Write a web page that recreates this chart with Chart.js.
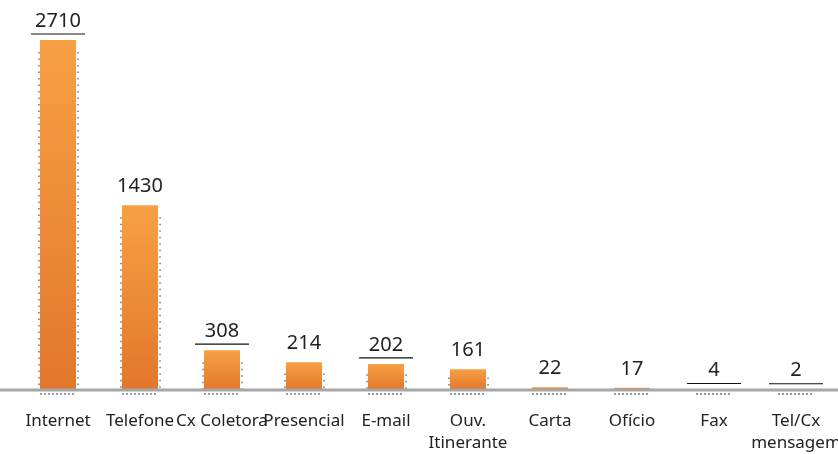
<!DOCTYPE html>
<html>
<head>
<meta charset="utf-8">
<script src="https://cdn.jsdelivr.net/npm/chart.js@4"></script>
<style>
  html, body { margin: 0; padding: 0; background: #fff; }
  #wrap { width: 838px; height: 454px; }
</style>
</head>
<body>
<div id="wrap"><canvas id="chart" width="838" height="454"></canvas></div>
<script>
const categories = ['Internet', 'Telefone', 'Cx Coletora', 'Presencial', 'E-mail',
    ['Ouv.', 'Itinerante'], 'Carta', 'Ofício', 'Fax', ['Tel/Cx', 'mensagem']];
const values = [2710, 1430, 308, 214, 202, 161, 22, 17, 4, 2];
const underlined = [true, false, true, false, true, false, false, false, true, true];

const FONT = '"Noto Sans", "Open Sans", sans-serif';

/* ===============================
   PLUGINS
================================ */
const baseline = {
    id: 'baseline',
    afterDatasetsDraw(chart) {
        const { ctx, chartArea } = chart;
        const meta = chart.getDatasetMeta(0);
        ctx.save();

        // dotted edges beside each bar
        ctx.strokeStyle = '#777';
        ctx.lineWidth = 1.5;
        ctx.setLineDash([1.5, 5]);
        meta.data.forEach(bar => {
            const h = bar.base - bar.y;
            if (h < 8) return;
            const l = bar.x - bar.width / 2 - 1;
            const r = bar.x + bar.width / 2 + 2;
            ctx.beginPath();
            ctx.moveTo(l, bar.y + Math.min(12, h * 0.4));
            ctx.lineTo(l, bar.base);
            ctx.moveTo(r, bar.y + Math.min(12, h * 0.4));
            ctx.lineTo(r, bar.base);
            ctx.stroke();
        });
        ctx.setLineDash([2, 2]);
        meta.data.forEach(bar => {
            ctx.beginPath();
            ctx.moveTo(bar.x - bar.width / 2, chartArea.bottom + 4);
            ctx.lineTo(bar.x + bar.width / 2, chartArea.bottom + 4);
            ctx.stroke();
        });
        ctx.setLineDash([]);

        // gray base line across the whole width
        ctx.strokeStyle = '#a6a6a6';
        ctx.lineWidth = 3;
        ctx.beginPath();
        ctx.moveTo(0, chartArea.bottom);
        ctx.lineTo(chart.width, chartArea.bottom);
        ctx.stroke();

        // value labels
        ctx.fillStyle = '#222';
        ctx.font = '20px ' + FONT;
        ctx.textAlign = 'center';
        ctx.textBaseline = 'middle';
        meta.data.forEach((bar, i) => {
            const y = bar.y - 19;
            ctx.fillText(values[i], bar.x, y);
            if (underlined[i]) {
                ctx.strokeStyle = '#111';
                ctx.lineWidth = 1.2;
                ctx.beginPath();
                ctx.moveTo(bar.x - 27, y + 13);
                ctx.lineTo(bar.x + 27, y + 13);
                ctx.stroke();
            }
        });
        ctx.restore();
    }
};

function barGradient(c) {
    const chart = c.chart;
    if (!chart.chartArea) return '#f08a30';
    const y = chart.scales.y;
    const top = y.getPixelForValue(c.raw);
    const bottom = y.getPixelForValue(0);
    const g = chart.ctx.createLinearGradient(0, top, 0, Math.max(bottom, top + 1));
    g.addColorStop(0, '#f7a044');
    g.addColorStop(1, '#e2772b');
    return g;
}

new Chart(document.getElementById('chart'), {
    type: 'bar',
    data: {
        labels: categories,
        datasets: [{
            data: values,
            backgroundColor: barGradient,
            borderWidth: 0,
            categoryPercentage: 1,
            barPercentage: 0.44
        }]
    },
    options: {
        responsive: false,
        animation: false,
        layout: { padding: { top: 40, left: 17, right: 1, bottom: 0 } },
        plugins: {
            legend: { display: false },
            tooltip: { enabled: false }
        },
        scales: {
            y: { display: false, min: 0, max: 2710 },
            x: {
                grid: { display: false, drawTicks: false },
                border: { display: false },
                afterFit(scale) {
                    scale.height = 64;
                    scale.paddingLeft = 0;
                    scale.paddingRight = 0;
                },
                ticks: {
                    color: '#222',
                    padding: 21,
                    maxRotation: 0,
                    autoSkip: false,
                    font: { family: FONT, size: 17, lineHeight: 1.25 }
                }
            }
        }
    },
    plugins: [baseline]
});
</script>
</body>
</html>
